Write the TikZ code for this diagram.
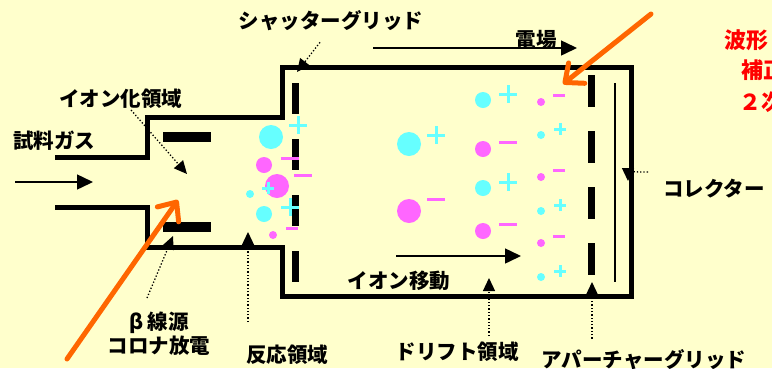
\documentclass[tikz,border=0pt]{standalone}
\usepackage{fontspec}
\newfontfamily\jpfont{Noto Sans CJK JP}
\usepackage{xcolor}
\usetikzlibrary{arrows.meta}

\definecolor{paper}{RGB}{255,255,204}
\definecolor{ioncyan}{RGB}{102,255,255}
\definecolor{ionpink}{RGB}{255,102,255}
\definecolor{hilite}{RGB}{255,102,0}

\tikzset{
  pics/plusmark/.style={code={\draw[ioncyan,line width=3pt] (-#1,0) -- (#1,0) (0,-#1) -- (0,#1);}},
  pics/minusmark/.style={code={\draw[ionpink,line width=3pt] (-#1,0) -- (#1,0);}}
}

\begin{document}
\begin{tikzpicture}[
    x=1pt,y=-1pt,
    wall/.style={line width=5pt,line join=miter},
    gridbar/.style={line width=7pt},
    lbl/.style={font=\jpfont\bfseries\fontsize{20.5}{24}\selectfont,inner sep=1pt},
    note/.style={font=\jpfont\bfseries\fontsize{22}{26}\selectfont,text=red,inner sep=0pt,anchor=west},
    leader/.style={dotted,line width=1.3pt,-{Triangle[length=13pt,width=12pt]}},
    flow/.style={line width=1.5pt,-{Triangle[length=16pt,width=15pt]}},
    pointer/.style={hilite,line width=5pt,line cap=round,-{Straight Barb[length=15pt,width=26pt,round]}}
]
\fill[paper] (0,0) rectangle (772,368);
\clip (0,0) rectangle (772,368);

% casing
\draw[wall] (55,157) -- (147,157) -- (147,117) -- (282,117) -- (282,67) -- (631,67)
  -- (631,296) -- (282,296) -- (282,247) -- (147,247) -- (147,207) -- (55,207);

% electrodes and grids
\fill (163,132) rectangle (211,142);
\fill (163,222) rectangle (211,232);
\draw[gridbar,dash pattern=on 31pt off 25pt] (295.5,83) -- (295.5,282);
\draw[gridbar,dash pattern=on 32pt off 24pt] (591.5,75) -- (591.5,275);
\draw[line width=1.8pt] (615,83) -- (615,282);

% ions in the reaction region
\fill[ioncyan] (271,137) circle (12);
\pic at (298,125) {plusmark=9};
\fill[ionpink] (264,165) circle (8);
\pic at (290,158) {minusmark=9};
\pic at (303,175) {minusmark=9};
\fill[ionpink] (277,186) circle (12);
\pic[line width=2.5pt] at (268,188) {plusmark=6};
\fill[ioncyan] (250,194) circle (4);
\fill[ioncyan] (264,214) circle (8);
\pic at (290,207) {plusmark=9};
\pic at (292,228) {minusmark=6};
\fill[ionpink] (273,235) circle (4);

% ions in the drift region
\fill[ioncyan] (409,144) circle (12);
\pic at (436,135) {plusmark=9};
\fill[ionpink] (409,211) circle (12);
\pic at (436,199) {minusmark=9};
\foreach \y in {100,188} {
  \fill[ioncyan] (483,\y) circle (8);
  \pic at (508,\y-6) {plusmark=9};
}
\foreach \y in {149,231} {
  \fill[ionpink] (483,\y) circle (8);
  \pic at (508,\y-7) {minusmark=9};
}
\foreach \y in {102,177,243} {
  \fill[ionpink] (541,\y) circle (4);
  \pic at (559,\y-7) {minusmark=6};
}
\foreach \y in {135,211,277} {
  \fill[ioncyan] (541,\y) circle (4);
  \pic at (560,\y-6) {plusmark=6};
}

% labels
\node[lbl] (shutter) at (331,21) {シャッターグリッド};
\node[lbl] (field) at (536,40) {電場};
\node[lbl] (ionize) at (121,99) {イオン化領域};
\node[lbl] (sample) at (54,141) {試料ガス};
\node[lbl,align=center] (source) at (159,334) {β 線源\\コロナ放電};
\node[lbl] (react) at (287,355) {反応領域};
\node[lbl] (migrate) at (399,281) {イオン移動};
\node[lbl] (drift) at (457,352) {ドリフト領域};
\node[lbl] (aperture) at (644,360) {アパーチャーグリッド};
\node[lbl,anchor=west] (collector) at (662,189) {コレクター};
\node[note] (noteA) at (724,40) {波形};
\node[note] (noteB) at (741,70) {補正};
\node[note] (noteC) at (739,102) {２次};

% flow arrows
\coordinate (fieldL) at (373,48);
\coordinate (fieldR) at (577,48);
\coordinate (gasL) at (15,182);
\coordinate (gasR) at (93,182);
\coordinate (moveL) at (396,256);
\coordinate (moveR) at (521,256);
\draw[flow] (fieldL) -- (fieldR);
\draw[flow] (gasL) -- (gasR);
\draw[flow] (moveL) -- (moveR);

% leaders
\coordinate (shutterTip) at (297,72);
\coordinate (ionizeTip) at (187,174);
\coordinate (sourceTip) at (173,236);
\coordinate (reactTip) at (248,232);
\coordinate (driftTip) at (489,278);
\coordinate (apertureTip) at (592,282);
\coordinate (collectorTip) at (628,181);
\draw[leader] ([xshift=-11pt,yshift=-10pt]shutter.south) -- (shutterTip);
\draw[leader] ([xshift=10pt]ionize.south) -- (ionizeTip);
\draw[leader] ([xshift=-12pt,yshift=13pt]source.north) -- (sourceTip);
\draw[leader] ([xshift=-39pt,yshift=22pt]react.north) -- (reactTip);
\draw[leader] ([xshift=32pt,yshift=5pt]drift.north) -- (driftTip);
\draw[leader] ([xshift=-52pt,yshift=10pt]aperture.north) -- (apertureTip);
\draw[leader] ([xshift=-14pt,yshift=17pt]collector.west) to[out=180,in=90] (collectorTip);

% highlight arrows
\coordinate (hintA) at (651,14);
\coordinate (hintATip) at (563,84);
\coordinate (hintB) at (67,359);
\coordinate (hintBTip) at (178,200);
\draw[pointer] (hintA) -- (hintATip);
\draw[pointer] (hintB) -- (hintBTip);
\end{tikzpicture}
\end{document}
